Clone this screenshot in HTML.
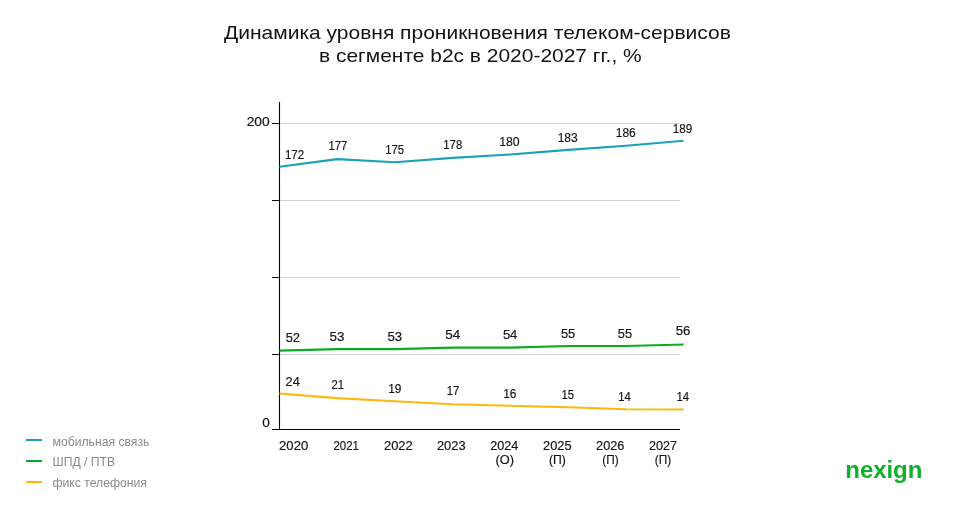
<!DOCTYPE html>
<html lang="ru"><head><meta charset="utf-8"><title>Динамика уровня проникновения телеком-сервисов</title>
<style>
html,body{margin:0;padding:0;background:#fff;}
body{width:960px;height:510px;position:relative;overflow:hidden;font-family:"Liberation Sans",sans-serif;color:#111;}
.tl{position:absolute;white-space:nowrap;font-size:19px;line-height:22px;color:#141414;transform-origin:0 0;}
svg{position:absolute;left:0;top:0;}
svg text{font-family:"Liberation Sans",sans-serif;font-size:12.0px;fill:#161616;stroke:#161616;stroke-width:0.18px;}
.legend{position:absolute;left:26px;top:0;font-size:12.2px;color:#8a8a8a;}
.legend div{position:absolute;left:0;white-space:nowrap;height:14px;line-height:14px;padding-left:26.5px;}
.legend i{position:absolute;left:0;width:16px;height:2px;}
.logo{position:absolute;left:845.3px;top:456.3px;font-size:24px;font-weight:bold;color:#10b02c;letter-spacing:-0.05px;line-height:28px;}
</style></head><body>
<div class="tl" style="left:224.05px;top:21.81px;transform:scaleX(1.1051)">Динамика уровня проникновения телеком-сервисов</div>
<div class="tl" style="left:318.55px;top:45.40px;transform:scaleX(1.1031)">в сегменте b2c в 2020-2027 гг., %</div>
<svg width="960" height="510" viewBox="0 0 960 510">
<line x1="280" x2="680" y1="123.5" y2="123.5" stroke="#d3d3d3" stroke-width="1"/>
<line x1="280" x2="680" y1="200.5" y2="200.5" stroke="#d3d3d3" stroke-width="1"/>
<line x1="280" x2="680" y1="277.5" y2="277.5" stroke="#d3d3d3" stroke-width="1"/>
<line x1="280" x2="680" y1="354.5" y2="354.5" stroke="#d3d3d3" stroke-width="1"/>
<line x1="272" x2="280" y1="123.5" y2="123.5" stroke="#080808" stroke-width="1"/>
<line x1="272" x2="280" y1="200.5" y2="200.5" stroke="#080808" stroke-width="1"/>
<line x1="272" x2="280" y1="277.5" y2="277.5" stroke="#080808" stroke-width="1"/>
<line x1="272" x2="280" y1="354.5" y2="354.5" stroke="#080808" stroke-width="1"/>
<line x1="279.5" x2="279.5" y1="102" y2="430" stroke="#080808" stroke-width="1.1"/>
<line x1="272" x2="680" y1="429.5" y2="429.5" stroke="#080808" stroke-width="1"/>
<polyline fill="none" stroke="#1ba1ba" stroke-width="2.1" stroke-linejoin="round" points="279.5,166.8 337.2,159.1 395.0,162.2 452.7,157.9 510.4,154.5 568.1,149.9 625.9,145.8 683.6,140.8"/>
<polyline fill="none" stroke="#0aad22" stroke-width="2.1" stroke-linejoin="round" points="279.5,350.6 337.2,349.1 395.0,349.1 452.7,347.6 510.4,347.6 568.1,346.0 625.9,346.0 683.6,344.5"/>
<polyline fill="none" stroke="#fbb90a" stroke-width="2.1" stroke-linejoin="round" points="279.5,393.5 337.2,398.1 395.0,401.2 452.7,404.3 510.4,405.8 568.1,407.3 625.9,409.3 683.6,409.5"/>
<g transform="translate(284.92,159.30) scale(0.9620,1)"><text x="0" y="0">172</text></g>
<g transform="translate(328.50,149.90) scale(0.9400,1)"><text x="0" y="0">177</text></g>
<g transform="translate(385.15,154.20) scale(0.9400,1)"><text x="0" y="0">175</text></g>
<g transform="translate(443.34,149.00) scale(0.9415,1)"><text x="0" y="0">178</text></g>
<g transform="translate(499.17,146.00) scale(1.0249,1)"><text x="0" y="0">180</text></g>
<g transform="translate(557.69,142.10) scale(1.0013,1)"><text x="0" y="0">183</text></g>
<g transform="translate(615.79,136.80) scale(0.9959,1)"><text x="0" y="0">186</text></g>
<g transform="translate(672.71,132.90) scale(0.9709,1)"><text x="0" y="0">189</text></g>
<g transform="translate(285.68,341.80) scale(1.0763,1)"><text x="0" y="0">52</text></g>
<g transform="translate(329.46,340.70) scale(1.1187,1)"><text x="0" y="0">53</text></g>
<g transform="translate(387.47,340.70) scale(1.1025,1)"><text x="0" y="0">53</text></g>
<g transform="translate(445.36,338.90) scale(1.1266,1)"><text x="0" y="0">54</text></g>
<g transform="translate(502.88,338.70) scale(1.0866,1)"><text x="0" y="0">54</text></g>
<g transform="translate(560.89,337.65) scale(1.0680,1)"><text x="0" y="0">55</text></g>
<g transform="translate(617.79,337.65) scale(1.0680,1)"><text x="0" y="0">55</text></g>
<g transform="translate(675.77,335.00) scale(1.1025,1)"><text x="0" y="0">56</text></g>
<g transform="translate(285.56,385.90) scale(1.0649,1)"><text x="0" y="0">24</text></g>
<g transform="translate(331.52,388.90) scale(0.9400,1)"><text x="0" y="0">21</text></g>
<g transform="translate(388.19,392.90) scale(0.9943,1)"><text x="0" y="0">19</text></g>
<g transform="translate(446.63,394.60) scale(0.9400,1)"><text x="0" y="0">17</text></g>
<g transform="translate(503.19,397.90) scale(0.9955,1)"><text x="0" y="0">16</text></g>
<g transform="translate(561.54,398.90) scale(0.9400,1)"><text x="0" y="0">15</text></g>
<g transform="translate(618.36,401.15) scale(0.9400,1)"><text x="0" y="0">14</text></g>
<g transform="translate(676.43,401.15) scale(0.9517,1)"><text x="0" y="0">14</text></g>
<g transform="translate(246.66,125.90) scale(1.1500,1)"><text x="0" y="0">200</text></g>
<g transform="translate(262.17,426.80) scale(1.1332,1)"><text x="0" y="0">0</text></g>
<g transform="translate(279.04,449.90) scale(1.0968,1)"><text x="0" y="0">2020</text></g>
<g transform="translate(333.48,449.90) scale(0.9569,1)"><text x="0" y="0">2021</text></g>
<g transform="translate(384.05,449.90) scale(1.0750,1)"><text x="0" y="0">2022</text></g>
<g transform="translate(436.96,449.90) scale(1.0720,1)"><text x="0" y="0">2023</text></g>
<g transform="translate(490.17,449.90) scale(1.0567,1)"><text x="0" y="0">2024</text></g>
<g transform="translate(543.06,449.90) scale(1.0710,1)"><text x="0" y="0">2025</text></g>
<g transform="translate(596.06,449.90) scale(1.0642,1)"><text x="0" y="0">2026</text></g>
<g transform="translate(649.07,449.90) scale(1.0476,1)"><text x="0" y="0">2027</text></g>
<g transform="translate(495.51,463.60) scale(1.0669,1)"><text x="0" y="0">(О)</text></g>
<g transform="translate(549.04,463.60) scale(1.0177,1)"><text x="0" y="0">(П)</text></g>
<g transform="translate(602.37,463.60) scale(0.9847,1)"><text x="0" y="0">(П)</text></g>
<g transform="translate(654.87,463.60) scale(0.9847,1)"><text x="0" y="0">(П)</text></g>
</svg>
<div class="legend">
<i style="top:439px;background:#1ba1ba"></i><div style="top:434.5px">мобильная связь</div>
<i style="top:460px;background:#0aad22"></i><div style="top:455.1px">ШПД / ПТВ</div>
<i style="top:481px;background:#fbb90a"></i><div style="top:475.8px">фикс телефония</div>
</div>
<div class="logo">nexign</div>
</body></html>
